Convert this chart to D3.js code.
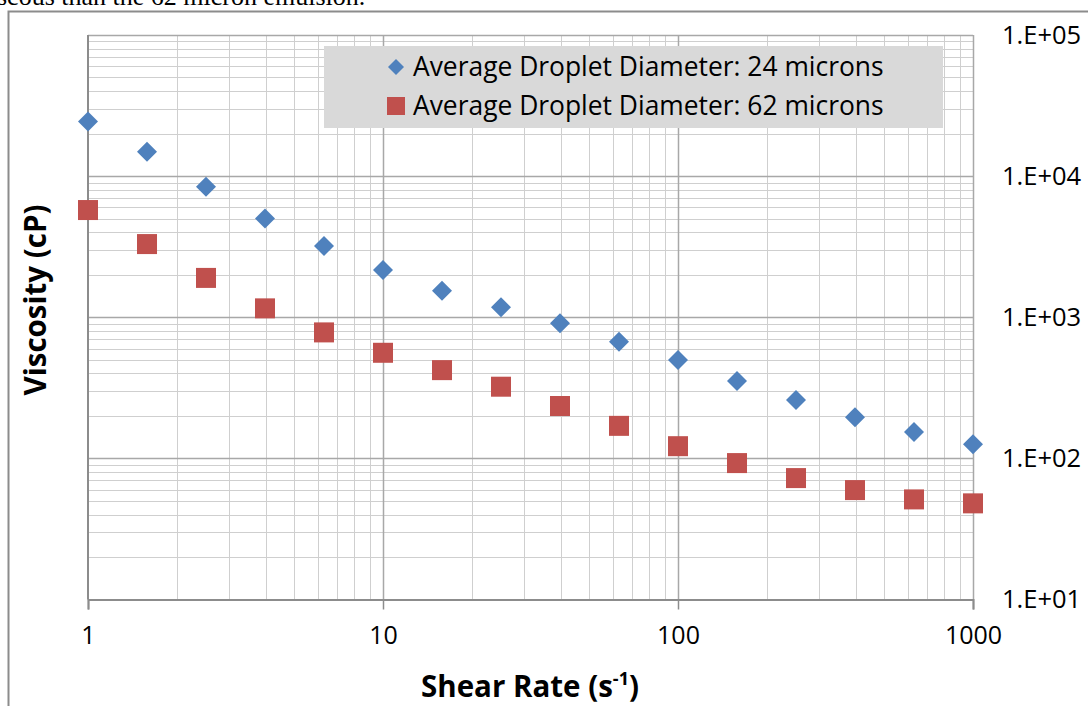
<!DOCTYPE html>
<html>
<head>
<meta charset="utf-8">
<script src="https://cdn.jsdelivr.net/npm/d3@7"></script>
<style>
  html, body { margin: 0; padding: 0; background: #fff; }
  svg { display: block; }
</style>
</head>
<body>
<svg id="chart" width="1088" height="706"></svg>
<script>
// Shear rates (1/s), five points per decade
const shearRates = [1, 1.585, 2.512, 3.981, 6.31, 10, 15.85, 25.12, 39.81, 63.1, 100, 158.5, 251.2, 398.1, 631, 1000];

// Viscosity (cP) of the two emulsions
const visc24 = [24400, 14900, 8400, 5000, 3200, 2160, 1540, 1175, 905, 670, 498, 353, 259, 196, 154, 126];
const visc62 = [5750, 3300, 1900, 1156, 781, 560, 422, 322, 235, 170, 122, 92.6, 72.5, 59.6, 51.2, 48];

const seriesNames = ["Average Droplet Diameter: 24 microns", "Average Droplet Diameter: 62 microns"];
const xTickValues = [1, 10, 100, 1000];
const xTickLabels = ["1", "10", "100", "1000"];
const yTickValues = [10, 100, 1000, 10000, 100000];
const yTickLabels = ["1.E+01", "1.E+02", "1.E+03", "1.E+04", "1.E+05"];

const blue = "#4F81BD", red = "#C0504D";
const font = "'Open Sans', Lato, sans-serif";

const svg = d3.select("#chart");

// line of body text running above the chart frame
svg.append("text")
  .attr("x", -3).attr("y", 5)
  .attr("font-family", "'Liberation Serif', 'Times New Roman', serif")
  .attr("font-size", 26)
  .attr("fill", "#000")
  .text("scous than the 62 micron emulsion.");

// chart frame
svg.append("rect")
  .attr("x", 8.5).attr("y", 11.5)
  .attr("width", 1200).attr("height", 800)
  .attr("fill", "#fff")
  .attr("stroke", "#8c8c8c").attr("stroke-width", 2);

const x = d3.scaleLog().domain([1, 1000]).range([88, 973]);
const y = d3.scaleLog().domain([10, 100000]).range([599.5, 35]);

// minor + major gridlines
function decadeTicks(lo, hi) {
  const out = [];
  for (let d = lo; d < hi; d *= 10) {
    for (let k = 2; k <= 9; k++) out.push(d * k);
  }
  return out;
}
const grid = svg.append("g");
const xMinor = decadeTicks(1, 1000);
const yMinor = decadeTicks(10, 100000);

grid.selectAll(".ymin").data(yMinor).join("line")
  .attr("x1", x(1)).attr("x2", x(1000))
  .attr("y1", d => Math.round(y(d)) + 0.5).attr("y2", d => Math.round(y(d)) + 0.5)
  .attr("stroke", "#cfcfcf").attr("stroke-width", 1);
grid.selectAll(".xmin").data(xMinor).join("line")
  .attr("y1", y(100000)).attr("y2", y(10))
  .attr("x1", d => Math.round(x(d)) + 0.5).attr("x2", d => Math.round(x(d)) + 0.5)
  .attr("stroke", "#cfcfcf").attr("stroke-width", 1);
grid.selectAll(".ymaj").data(yTickValues.slice(1)).join("line")
  .attr("x1", x(1)).attr("x2", x(1000))
  .attr("y1", d => Math.round(y(d)) + 0.5).attr("y2", d => Math.round(y(d)) + 0.5)
  .attr("stroke", "#a8a8a8").attr("stroke-width", 1.5);
grid.selectAll(".xmaj").data(xTickValues.slice(1)).join("line")
  .attr("y1", y(100000)).attr("y2", y(10))
  .attr("x1", d => Math.round(x(d)) + 0.5).attr("x2", d => Math.round(x(d)) + 0.5)
  .attr("stroke", "#a8a8a8").attr("stroke-width", 1.5);

// x axis along the bottom
const xAxis = svg.append("g")
  .attr("transform", `translate(0,${y(10)})`)
  .call(d3.axisBottom(x).tickValues(xTickValues)
    .tickFormat((d, i) => xTickLabels[i]).tickSize(10).tickPadding(17));
xAxis.select(".domain").attr("stroke", "#8c8c8c").attr("stroke-width", 2);
xAxis.selectAll(".tick line").attr("stroke", "#8c8c8c").attr("stroke-width", 1.5);
xAxis.selectAll(".tick text").attr("font-family", font).attr("font-size", 25).attr("fill", "#000");

// y axis line on the left, labels on the right
svg.append("line")
  .attr("x1", x(1)).attr("x2", x(1))
  .attr("y1", y(100000)).attr("y2", y(10))
  .attr("stroke", "#8c8c8c").attr("stroke-width", 2);
const yAxis = svg.append("g")
  .attr("transform", `translate(${x(1000)},0)`)
  .call(d3.axisRight(y).tickValues(yTickValues)
    .tickFormat((d, i) => yTickLabels[i]).tickSize(0).tickPadding(29));
yAxis.select(".domain").remove();
yAxis.selectAll(".tick text").attr("font-family", font).attr("font-size", 25.5).attr("fill", "#000");

// series markers
const pts24 = shearRates.map((s, i) => ({ s, v: visc24[i] }));
const pts62 = shearRates.map((s, i) => ({ s, v: visc62[i] }));

const diamond = d3.symbol().type(d3.symbolSquare).size(200);
svg.append("g").selectAll("path").data(pts24).join("path")
  .attr("d", diamond)
  .attr("transform", d => `translate(${x(d.s)},${y(d.v)}) rotate(45)`)
  .attr("fill", blue);

svg.append("g").selectAll("rect").data(pts62).join("rect")
  .attr("x", d => x(d.s) - 10).attr("y", d => y(d.v) - 10)
  .attr("width", 20).attr("height", 20)
  .attr("fill", red);

// legend
const lg = svg.append("g");
lg.append("rect")
  .attr("x", 324).attr("y", 46).attr("width", 619).attr("height", 82)
  .attr("fill", "#d9d9d9");
lg.append("path")
  .attr("d", d3.symbol().type(d3.symbolSquare).size(128))
  .attr("transform", "translate(396,67) rotate(45)")
  .attr("fill", blue);
lg.append("rect")
  .attr("x", 387).attr("y", 97).attr("width", 18).attr("height", 18)
  .attr("fill", red);
lg.selectAll("text").data(seriesNames).join("text")
  .attr("x", 413).attr("y", (d, i) => 67 + i * 39)
  .attr("dy", "0.35em")
  .attr("font-family", font).attr("font-size", 26.4).attr("fill", "#000")
  .text(d => d);

// axis titles
const xt = svg.append("text")
  .attr("x", 530).attr("y", 697)
  .attr("text-anchor", "middle")
  .attr("font-family", font).attr("font-weight", "bold").attr("font-size", 29.5).attr("fill", "#000");
xt.append("tspan").text("Shear Rate (s");
xt.append("tspan").attr("font-size", 18).attr("dy", -12).text("-1");
xt.append("tspan").attr("dy", 12).text(")");

svg.append("text")
  .attr("transform", "translate(46,300) rotate(-90)")
  .attr("text-anchor", "middle")
  .attr("font-family", font).attr("font-weight", "bold").attr("font-size", 29.5).attr("fill", "#000")
  .text("Viscosity (cP)");
</script>
</body>
</html>
